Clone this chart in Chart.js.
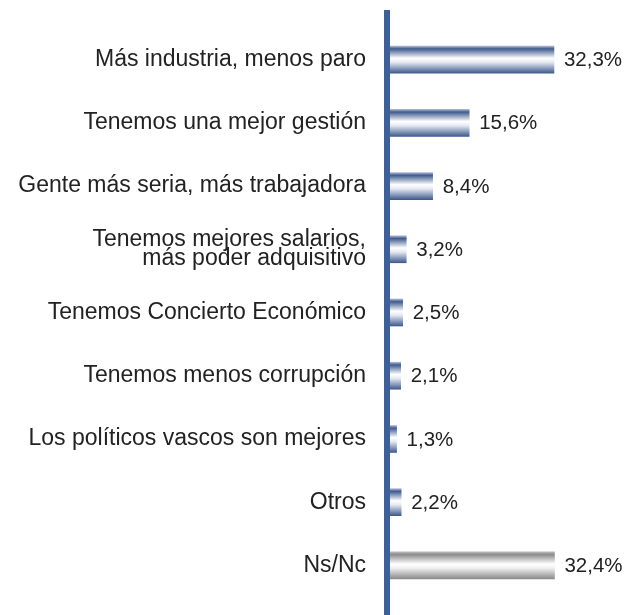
<!DOCTYPE html>
<html>
<head>
<meta charset="utf-8">
<script src="https://cdn.jsdelivr.net/npm/chart.js@4"></script>
<style>
  html, body { margin: 0; padding: 0; background: #fff; }
  #wrap { width: 624px; height: 615px; }
</style>
</head>
<body>
<div id="wrap"><canvas id="C"></canvas></div>
<script>
const categories = [
  "Más industria, menos paro",
  "Tenemos una mejor gestión",
  "Gente más seria, más trabajadora",
  ["Tenemos mejores salarios,", "más poder adquisitivo"],
  "Tenemos Concierto Económico",
  "Tenemos menos corrupción",
  "Los políticos vascos son mejores",
  "Otros",
  "Ns/Nc"
];
const values = [32.3, 15.6, 8.4, 3.2, 2.5, 2.1, 1.3, 2.2, 32.4];
const greyIndex = 8;

const FONT = "'Liberation Sans', Arial, sans-serif";
const BAR_H = 27;

function barFill(ctx) {
  const chart = ctx.chart;
  const y = chart.scales.y;
  const cy = y ? y.getPixelForValue(ctx.dataIndex) : NaN;
  if (!isFinite(cy)) return "#44608f";
  const g = chart.ctx.createLinearGradient(0, cy - BAR_H / 2, 0, cy + BAR_H / 2);
  if (ctx.dataIndex === greyIndex) {
    g.addColorStop(0, "#b8b8b8");
    g.addColorStop(0.1, "#8c8c8c");
    g.addColorStop(0.45, "#ffffff");
    g.addColorStop(0.6, "#f0f0f0");
    g.addColorStop(1, "#8a8a8a");
  } else {
    g.addColorStop(0, "#aeb6d2");
    g.addColorStop(0.1, "#3f5b8e");
    g.addColorStop(0.45, "#ffffff");
    g.addColorStop(0.6, "#e6e9f2");
    g.addColorStop(1, "#3f5b8e");
  }
  return g;
}

const axisLine = {
  id: "axisLine",
  afterDatasetsDraw(chart) {
    const c = chart.ctx;
    const x = chart.chartArea.left;
    c.save();
    c.fillStyle = "#3d5f9a";
    c.fillRect(x - 6, 10, 6, chart.height - 10);
    c.restore();
  }
};

const valueLabels = {
  id: "valueLabels",
  afterDatasetsDraw(chart) {
    const c = chart.ctx;
    const meta = chart.getDatasetMeta(0);
    c.save();
    c.font = "20.5px " + FONT;
    c.fillStyle = "#222";
    c.textBaseline = "middle";
    meta.data.forEach((bar, i) => {
      const txt = values[i].toFixed(1).replace(".", ",") + "%";
      c.fillText(txt, bar.x + 10, bar.y + 1);
    });
    c.restore();
  }
};

let chart = new Chart(document.getElementById("C").getContext("2d"), {
  type: "bar",
  data: {
    labels: categories,
    datasets: [
      {
        data: values,
        backgroundColor: barFill,
        borderWidth: 0,
        barThickness: BAR_H
      }
    ]
  },
  options: {
    indexAxis: "y",
    responsive: true,
    maintainAspectRatio: false,
    animation: false,
    layout: { padding: { top: 28, bottom: 18, left: 0, right: 0 } },
    scales: {
      x: {
        display: false,
        min: 0,
        max: 46.1
      },
      y: {
        afterFit(scale) {
          scale.width = 390;
          scale.paddingTop = 0;
          scale.paddingBottom = 0;
        },
        grid: { display: false, drawTicks: false },
        border: { display: false },
        ticks: {
          padding: 24,
          color: "#222",
          font: { family: FONT, size: 23, lineHeight: 0.8 }
        }
      }
    },
    plugins: {
      legend: { display: false },
      tooltip: { enabled: false }
    }
  },
  plugins: [axisLine, valueLabels]
});
</script>
</body>
</html>
